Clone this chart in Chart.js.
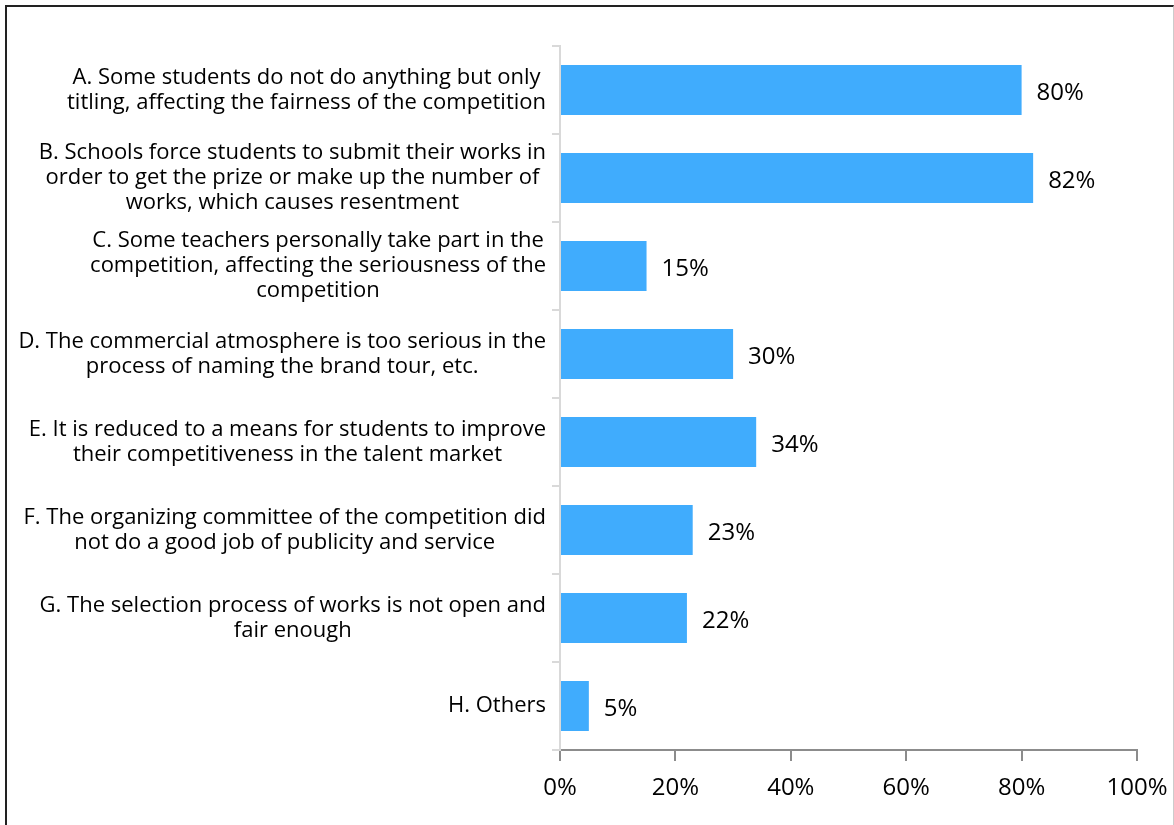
<!DOCTYPE html>
<html>
<head>
<meta charset="utf-8">
<script src="https://cdn.jsdelivr.net/npm/chart.js@4.4.1/dist/chart.umd.min.js"></script>
<style>
  html, body { margin: 0; padding: 0; background: #fff; }
  #wrap { position: relative; width: 1174px; height: 825px; overflow: hidden; }
  #frame { position: absolute; left: 5px; top: 5px; width: 1166px; height: 840px;
           border-left: 2px solid #222; border-top: 2px solid #222; border-right: 1px solid #ccc; }
  #chart { position: absolute; left: 0; top: 0; }
</style>
</head>
<body>
<div id="wrap">
  <div id="frame"></div>
  <canvas id="chart" width="1174" height="825"></canvas>
</div>
<script>
// category text, one entry per line of the label
const categories = [
  ['A. Some students do not do anything but only', 'titling, affecting the fairness of the competition'],
  ['B. Schools force students to submit their works in', 'order to get the prize or make up the number of', 'works, which causes resentment'],
  ['C. Some teachers personally take part in the', 'competition, affecting the seriousness of the', 'competition'],
  ['D. The commercial atmosphere is too serious in the', 'process of naming the brand tour, etc.'],
  ['E. It is reduced to a means for students to improve', 'their competitiveness in the talent market'],
  ['F. The organizing committee of the competition did', 'not do a good job of publicity and service'],
  ['G. The selection process of works is not open and', 'fair enough'],
  ['H. Others']
];
const percents = [80, 82, 15, 30, 34, 23, 22, 5];
const xTicks = [0, 20, 40, 60, 80, 100];

const FONT = '"Open Sans", "Noto Sans", sans-serif';

// draws the wrapped category labels and the value labels
const labelPlugin = {
  id: 'labelPlugin',
  afterDatasetsDraw(chart) {
    const ctx = chart.ctx;
    const y = chart.scales.y;
    const x = chart.scales.x;
    ctx.save();
    ctx.fillStyle = '#000';
    ctx.textBaseline = 'middle';

    ctx.font = '22px ' + FONT;
    const lineH = 25;
    categories.forEach((lines, i) => {
      const cy = y.getPixelForValue(i);
      const w = Math.max(...lines.map(l => ctx.measureText(l).width));
      const cx = 546 - w / 2;
      ctx.textAlign = 'center';
      lines.forEach((l, k) => {
        ctx.fillText(l, cx, cy + (k - (lines.length - 1) / 2) * lineH);
      });
    });

    ctx.font = '24px ' + FONT;
    ctx.textAlign = 'left';
    percents.forEach((v, i) => {
      ctx.fillText(v + '%', x.getPixelForValue(v) + 15, y.getPixelForValue(i) + 3);
    });
    ctx.restore();
  }
};

new Chart(document.getElementById('chart'), {
  type: 'bar',
  data: {
    labels: categories.map(c => c.join(' ')),
    datasets: [{
      data: percents,
      backgroundColor: '#40acfd',
      categoryPercentage: 1,
      barPercentage: 0.57
    }]
  },
  options: {
    indexAxis: 'y',
    responsive: false,
    animation: false,
    layout: { padding: { top: 46, right: 37, left: 0, bottom: 0 } },
    plugins: { legend: { display: false }, tooltip: { enabled: false } },
    scales: {
      x: {
        min: 0,
        max: 100,
        afterBuildTicks: scale => { scale.ticks = xTicks.map(v => ({ value: v })); },
        afterFit: scale => {
          scale.height = 75;
          scale.paddingLeft = 0;
          scale.paddingRight = 0;
        },
        border: { color: '#8c8c8c', width: 2 },
        grid: { drawOnChartArea: false, drawTicks: true, tickLength: 11, color: '#8c8c8c', lineWidth: 2 },
        ticks: {
          color: '#000',
          font: { family: FONT, size: 24 },
          padding: 13,
          maxRotation: 0,
          callback: v => v + '%'
        }
      },
      y: {
        afterFit: scale => { scale.width = 560; },
        border: { color: '#d9d9d9', width: 2 },
        grid: { drawOnChartArea: false, drawTicks: true, tickLength: 8, color: '#d9d9d9', lineWidth: 2 },
        ticks: { display: false }
      }
    }
  },
  plugins: [labelPlugin]
});
</script>
</body>
</html>
